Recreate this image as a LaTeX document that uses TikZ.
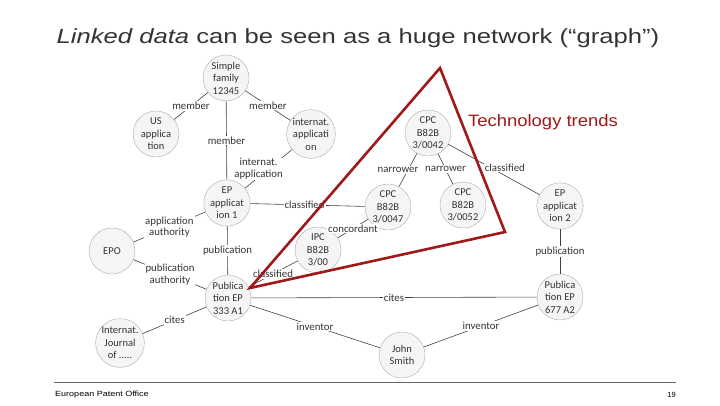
\documentclass[tikz,border=0pt]{standalone}
\usepackage{fontspec}
\setmainfont{Liberation Sans}
\newfontfamily\entfont{Carlito}
\usepackage{tikz}
\definecolor{trendred}{HTML}{A01818}
\definecolor{linkgray}{HTML}{404040}

\begin{document}
\begin{tikzpicture}[x=1pt, y=-1pt, thin,
    ent/.style={circle, draw=gray!65, fill=gray!8, minimum size=46pt, inner sep=0pt,
        align=center, text=black!80, font=\entfont\fontsize{10.5}{12.5}\selectfont},
    rel/.style={fill=white, inner sep=1pt, align=center, text=black!80,
        font=\entfont\fontsize{10.8}{11.5}\selectfont},
    link/.style={draw=linkgray, line width=0.6pt}]
                \useasboundingbox (0,0) rectangle (720,405);
                % title and footer
                \node[xscale=1.25] (ttl) at (358,38) {\color{black!80}\fontsize{20.5}{24}\selectfont\textit{Linked data} can be seen as a huge network (“graph”)};
                \draw[gray!80!black, line width=0.8pt] (54,382) -- (676,382);
                \node[anchor=west, inner sep=0pt, xscale=1.2] (epo-foot) at (55,395) {\fontsize{7.5}{8}\selectfont European Patent Office};
                \node[anchor=east, inner sep=0pt] (pg) at (676,395) {\fontsize{7.5}{8}\selectfont 19};
                % entities
                \node[ent] (famc) at (226,78) {Simple\\family\\12345};
                \node[ent] (usc) at (156,134) {US\\applica\\tion};
                \node[ent] (intc) at (311,134) {internat.\\applicati\\on};
                \node[ent] (ep1c) at (227,203) {EP\\applicat\\ion 1};
                \node[ent] (epoc) at (112,251) {EPO};
                \node[ent] (pub1c) at (228,298) {Publica\\tion EP\\333 A1};
                \node[ent] (jourc) at (120,343) {Internat.\\Journal\\of .....};
                \node[ent] (ipcc) at (318,250) {IPC\\B82B\\3/00};
                \node[ent] (c47c) at (388,207) {CPC\\B82B\\3/0047};
                \node[ent] (c42c) at (428,133) {CPC\\B82B\\3/0042};
                \node[ent] (c52c) at (463,205) {CPC\\B82B\\3/0052};
                \node[ent] (ep2c) at (560,206) {EP\\applicat\\ion 2};
                \node[ent] (pub2c) at (560,297) {Publica\\tion EP\\677 A2};
                \node[ent] (johnc) at (402,355) {John\\Smith};
                % relations
                \draw[link] (famc) -- (usc) node[rel, midway] {member};
                \draw[link] (famc) -- (intc) node[rel, midway] {member};
                \draw[link] (famc) -- (ep1c) node[rel, midway] {member};
                \draw[link] (intc) -- (ep1c) node[rel, midway, xshift=-10] {internat.\\application};
                \draw[link] (ep1c) -- (c47c) node[rel, midway, xshift=-3] {classified};
                \draw[link] (ep1c) -- (epoc) node[rel, midway] {application\\authority};
                \draw[link] (ep1c) -- (pub1c) node[rel, midway] {publication};
                \draw[link] (epoc) -- (pub1c) node[rel, midway] {publication\\authority};
                \draw[link] (pub1c) -- (jourc) node[rel, midway] {cites};
                \draw[link] (pub1c) -- (ipcc) node[rel, midway] {classified};
                \draw[link] (ipcc) -- (c47c) node[rel, midway] {concordant};
                \draw[link] (c42c) -- (c47c) node[rel, midway, xshift=-10] {narrower};
                \draw[link] (c42c) -- (c52c) node[rel, midway] {narrower};
                \draw[link] (c42c) -- (ep2c) node[rel, pos=0.62, yshift=8] {classified};
                \draw[link] (ep2c) -- (pub2c) node[rel, midway] {publication};
                \draw[link] (pub1c) -- (pub2c) node[rel, midway] {cites};
                \draw[link] (pub1c) -- (johnc) node[rel, midway] {inventor};
                \draw[link] (johnc) -- (pub2c) node[rel, midway] {inventor};
                % technology trends
                \coordinate (trA) at (440,68);
                \coordinate (trB) at (250,288);
                \coordinate (trC) at (505,232);
                \draw[trendred, line width=2.6pt, line join=miter] (trA) -- (trB) -- (trC) -- cycle;
                \node[text=trendred, xscale=1.12] (trend) at (543,122) {\fontsize{16.5}{19}\selectfont Technology trends};
            \end{tikzpicture}
\end{document}
